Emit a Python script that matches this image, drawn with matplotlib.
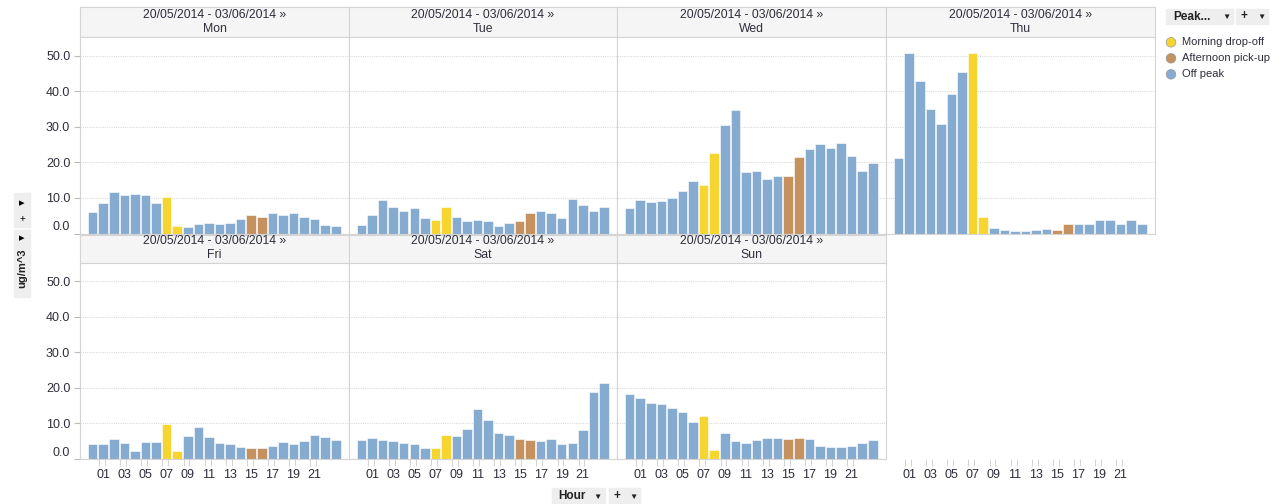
import matplotlib
matplotlib.use("Agg")
import matplotlib.pyplot as plt
import matplotlib.transforms as mtransforms
from matplotlib.patches import Circle, Rectangle

plt.rcParams['font.family'] = ['Liberation Sans', 'DejaVu Sans']

# data (ug/m^3 per hour of day, 00..23)
hours = list(range(24))
tick_hours = [1, 3, 5, 7, 9, 11, 13, 15, 17, 19, 21]
tick_labels = ['01', '03', '05', '07', '09', '11', '13', '15', '17', '19', '21']
days = ['Mon', 'Tue', 'Wed', 'Thu', 'Fri', 'Sat', 'Sun']
date_range = '20/05/2014 - 03/06/2014 \u00bb'
peak_names = ['Morning drop-off', 'Afternoon pick-up', 'Off peak']
peak = (['Off peak'] * 7 + ['Morning drop-off'] * 2 + ['Off peak'] * 6
        + ['Afternoon pick-up'] * 2 + ['Off peak'] * 7)

mon = [6.0, 8.5, 11.6, 10.8, 11.1, 10.8, 8.5, 10.4, 2.2, 1.9, 2.8, 3.1,
       2.8, 3.1, 4.2, 5.2, 4.8, 5.7, 5.2, 5.7, 4.8, 4.2, 2.5, 2.2]
tue = [2.5, 5.1, 9.4, 7.4, 6.3, 7.1, 4.5, 3.7, 7.6, 4.8, 3.4, 3.7,
       3.4, 2.2, 3.1, 3.4, 5.7, 6.3, 5.7, 4.5, 9.7, 8.0, 6.3, 7.6]
wed = [7.1, 9.4, 8.8, 9.1, 9.9, 11.9, 14.7, 13.6, 22.7, 30.6, 34.6, 17.2,
       17.5, 15.3, 16.1, 16.1, 21.6, 23.8, 25.2, 24.1, 25.5, 21.8, 17.5, 19.8]
thu = [21.3, 50.7, 42.8, 35.1, 30.8, 39.1, 45.4, 50.7, 4.8, 1.7, 1.1, 0.8,
       0.8, 1.1, 1.4, 1.1, 2.8, 2.8, 2.8, 3.9, 3.7, 2.8, 3.9, 2.8]
fri = [4.1, 4.1, 5.5, 4.4, 2.2, 4.7, 4.7, 9.9, 2.2, 6.4, 8.9, 6.1,
       4.4, 4.1, 3.3, 3.0, 3.0, 3.8, 4.7, 4.1, 5.0, 6.7, 6.1, 5.3]
sat = [5.3, 5.8, 5.3, 5.0, 4.4, 4.1, 3.0, 3.0, 6.9, 6.4, 8.4, 14.1,
       10.9, 7.2, 6.7, 5.5, 5.3, 5.0, 5.5, 4.1, 4.4, 8.1, 18.9, 21.4]
sun = [18.3, 17.2, 15.8, 15.5, 14.4, 13.2, 10.3, 12.1, 2.4, 7.2, 5.0, 4.4,
       5.3, 5.8, 5.8, 5.5, 5.8, 5.5, 3.6, 3.3, 3.3, 3.6, 4.4, 5.3]
values = [mon, tue, wed, thu, fri, sat, sun]

yticks = [0, 10, 20, 30, 40, 50]
ytick_labels = ['0.0', '10.0', '20.0', '30.0', '40.0', '50.0']

colors = {'Morning drop-off': '#f7d531', 'Afternoon pick-up': '#c4915f', 'Off peak': '#86abd0'}
text_col = '#2e2e3c'
border = '#d4d4d4'

W, H = 1284, 504
fig = plt.figure(figsize=(W / 100, H / 100), dpi=100)


def px_axes(x, y, w, h, **kw):
    return fig.add_axes([x / W, 1 - (y + h) / H, w / W, h / H], **kw)


def hour_axis(ax):
    ax.set_xticks(tick_hours)
    ax.set_xticklabels(tick_labels, fontsize=9, color=text_col)
    ax.tick_params(axis='x', length=0, pad=7)
    ax.set_xticks([h + d for h in tick_hours for d in (-0.4, 0.15)], minor=True)
    ax.tick_params(axis='x', which='minor', length=5, color='#cccccc')


col_x = [80, 349, 617, 886]
col_w = [269, 268, 269, 269]
head_top = [7, 235]
head_h = [30, 28]
plot_top = [37, 263]
plot_h = [196.6, 196]

for i, day in enumerate(days):
    r, c = divmod(i, 4)
    x, w = col_x[c], col_w[c]

    hd = px_axes(x, head_top[r], w, head_h[r])
    hd.set_facecolor('#f5f5f5')
    hd.set_xticks([])
    hd.set_yticks([])
    for s in hd.spines.values():
        s.set_color(border)
        s.set_linewidth(0.8)
    dy = 8 if r == 0 else 6
    hd.text(0.5, 1 - dy / head_h[r], date_range, transform=hd.transAxes,
            ha='center', va='center', fontsize=8.8, color=text_col)
    hd.text(0.5, 1 - (dy + 14) / head_h[r], day, transform=hd.transAxes,
            ha='center', va='center', fontsize=8.8, color=text_col)

    ax = px_axes(x, plot_top[r], w, plot_h[r])
    ax.bar(hours, values[i], width=0.9, color=[colors[p] for p in peak],
           edgecolor='white', linewidth=0.4, zorder=2)
    ax.set_xlim(-1.2, 24.25)
    ax.set_ylim(0, 55.2)
    ax.set_axisbelow(True)
    ax.yaxis.grid(True, linestyle=(0, (1, 1)), color='#dcdcdc', linewidth=0.8)
    for s in ax.spines.values():
        s.set_color(border)
        s.set_linewidth(0.8)
    ax.set_yticks(yticks)
    if c == 0:
        ax.set_yticklabels(ytick_labels, fontsize=9, color=text_col)
        ax.tick_params(axis='y', length=4, color='#bbbbbb', pad=3)
        zero = ax.get_yticklabels()[0]
        zero.set_transform(zero.get_transform()
                           + mtransforms.ScaledTranslation(0, 0.08, fig.dpi_scale_trans))
    else:
        ax.tick_params(axis='y', left=False, labelleft=False)
    if r == 1:
        hour_axis(ax)
    else:
        ax.set_xticks([])

# empty eighth slot keeps only the hour labels
ax = px_axes(col_x[3], plot_top[1], col_w[3], plot_h[1])
ax.set_xlim(-1.2, 24.25)
ax.set_ylim(0, 55.2)
for s in ax.spines.values():
    s.set_visible(False)
ax.set_yticks([])
hour_axis(ax)
ax.patch.set_alpha(0)

# overlay in pixel coords for the little controls and the legend
ov = fig.add_axes([0, 0, 1, 1], zorder=10)
ov.set_xlim(0, W)
ov.set_ylim(H, 0)
ov.axis('off')
ov.patch.set_alpha(0)

btn = '#eeeeee'
dark = '#222222'
ov.add_patch(Rectangle((14, 193), 16, 34, color=btn))
ov.add_patch(Rectangle((14, 230), 16, 67, color=btn))
ov.text(22, 203, '\u25b8', ha='center', va='center', fontsize=8, color='black')
ov.text(22, 219, '+', ha='center', va='center', fontsize=7, color='black')
ov.text(22, 238, '\u25b8', ha='center', va='center', fontsize=8, color='black')
ov.text(22, 268, 'ug/m^3', ha='center', va='center', fontsize=8, rotation=90,
        fontweight='bold', color=dark)

ov.add_patch(Rectangle((552, 488), 53, 16, color=btn))
ov.add_patch(Rectangle((609, 488), 31, 16, color=btn))
ov.text(558, 496, 'Hour', ha='left', va='center', fontsize=8.5, fontweight='bold', color=dark)
ov.text(597, 497, '\u25bc', ha='center', va='center', fontsize=6, color=dark)
ov.text(617, 496, '+', ha='center', va='center', fontsize=8.5, fontweight='bold', color=dark)
ov.text(633, 497, '\u25bc', ha='center', va='center', fontsize=6, color=dark)

ov.add_patch(Rectangle((1166, 9), 67, 15, color=btn))
ov.add_patch(Rectangle((1236, 9), 32, 15, color=btn))
ov.text(1173, 16.5, 'Peak...', ha='left', va='center', fontsize=8.5, fontweight='bold', color=dark)
ov.text(1226, 17, '\u25bc', ha='center', va='center', fontsize=6, color=dark)
ov.text(1244, 16.5, '+', ha='center', va='center', fontsize=8.5, fontweight='bold', color=dark)
ov.text(1261, 17, '\u25bc', ha='center', va='center', fontsize=6, color=dark)

for k, name in enumerate(peak_names):
    cy = 42.3 + 16 * k
    ov.add_patch(Circle((1171, cy), 4.8, facecolor=colors[name], edgecolor='#999999', linewidth=0.5))
    ov.text(1182, cy, name, ha='left', va='center', fontsize=8, color=text_col)

fig.savefig('out.png', dpi=100)
